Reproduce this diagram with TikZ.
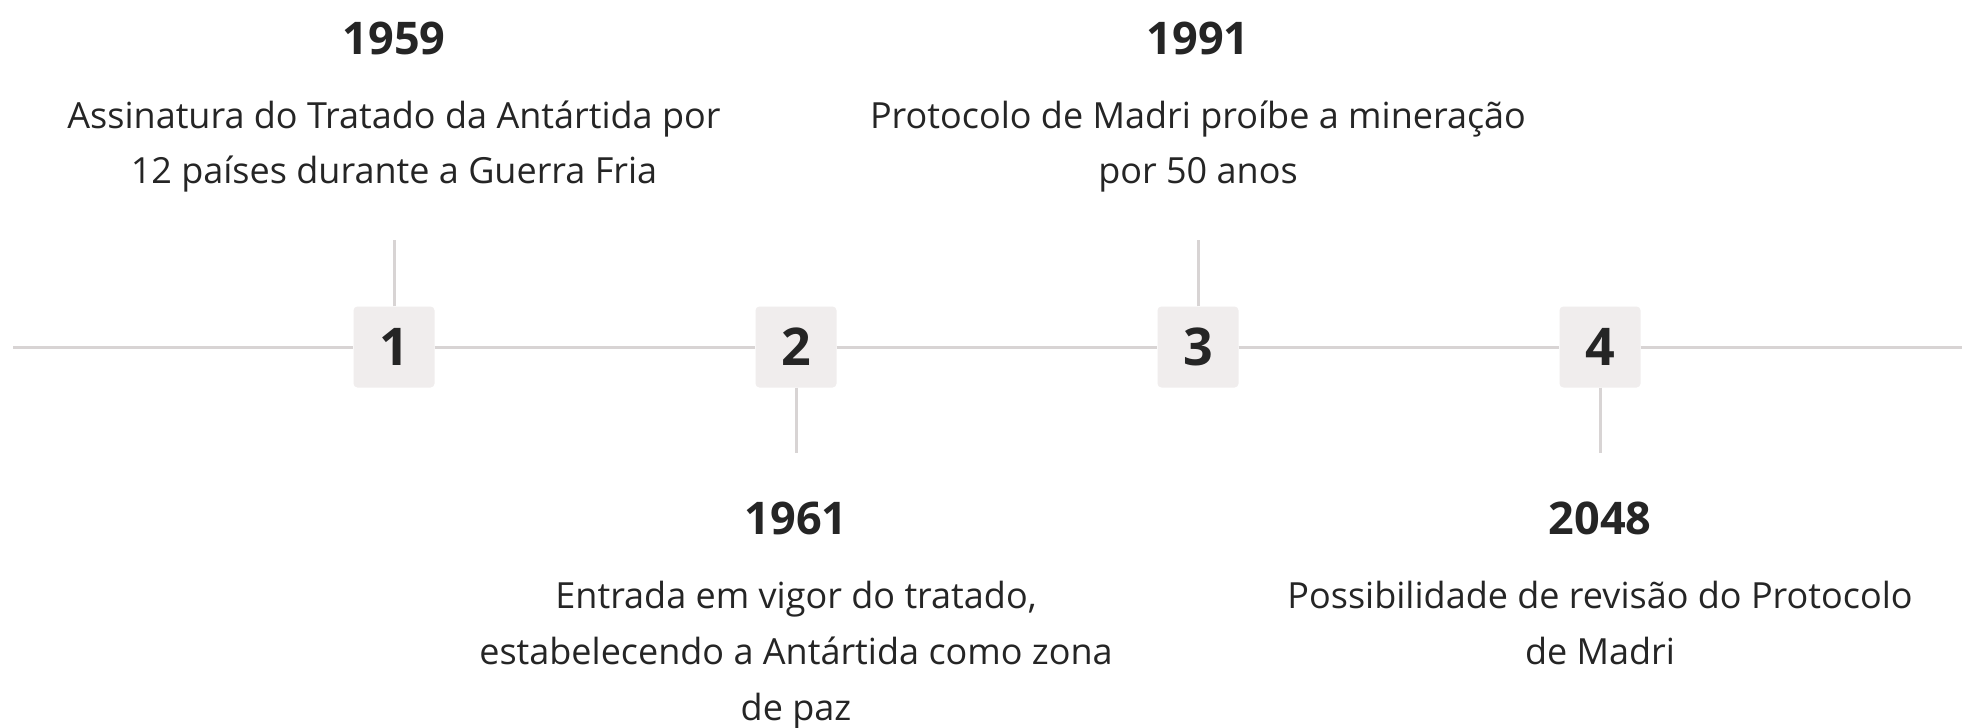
\documentclass[tikz,border=0pt]{standalone}
\usepackage{fontspec}
\setmainfont{Open Sans}
\definecolor{txt}{HTML}{252525}
\definecolor{boxfill}{HTML}{F0EDED}
\definecolor{linec}{HTML}{D8D4D4}
\tikzset{
  yearlbl/.style={anchor=base, text=txt, font=\fontsize{45}{50}\selectfont\bfseries, inner sep=0pt},
  desclbl/.style={anchor=base, text=txt, font=\fontsize{36}{40}\selectfont, inner sep=0pt},
  numbox/.style={draw=none, fill=boxfill, rounded corners=4pt, minimum width=81pt, minimum height=81pt, inner sep=0pt, text=txt, font=\fontsize{52}{56}\selectfont\bfseries},
  tline/.style={draw=linec, line width=3pt},
}
\begin{document}
\begin{tikzpicture}[x=1pt,y=-1pt]
\useasboundingbox[fill=white] (0,0) rectangle (1962,728);
\coordinate (L) at (13,347);
\coordinate (R) at (1962,347);
\node[numbox] (b1) at (394,347) {1};
\node[numbox] (b2) at (796,347) {2};
\node[numbox] (b3) at (1198,347) {3};
\node[numbox] (b4) at (1600,347) {4};
\draw[tline] (L) -- (b1) -- (b2) -- (b3) -- (b4) -- (R);
\coordinate (c1) at (394,240);
\coordinate (c2) at (796,453);
\coordinate (c3) at (1198,240);
\coordinate (c4) at (1600,453);
\draw[tline] (b1) -- (c1);
\draw[tline] (b2) -- (c2);
\draw[tline] (b3) -- (c3);
\draw[tline] (b4) -- (c4);
% event 1
\node[yearlbl] (y1) at (394,54) {1959};
\node[desclbl] (d1a) at (394,128) {Assinatura do Tratado da Antártida por};
\node[desclbl] (d1b) at (394,183) {12 países durante a Guerra Fria};
% event 3
\node[yearlbl] (y3) at (1198,54) {1991};
\node[desclbl] (d3a) at (1198,128) {Protocolo de Madri proíbe a mineração};
\node[desclbl] (d3b) at (1198,183) {por 50 anos};
% event 2
\node[yearlbl] (y2) at (796,534) {1961};
\node[desclbl] (d2a) at (796,608) {Entrada em vigor do tratado,};
\node[desclbl] (d2b) at (796,664) {estabelecendo a Antártida como zona};
\node[desclbl] (d2c) at (796,720) {de paz};
% event 4
\node[yearlbl] (y4) at (1600,534) {2048};
\node[desclbl] (d4a) at (1600,608) {Possibilidade de revisão do Protocolo};
\node[desclbl] (d4b) at (1600,664) {de Madri};
\end{tikzpicture}
\end{document}
